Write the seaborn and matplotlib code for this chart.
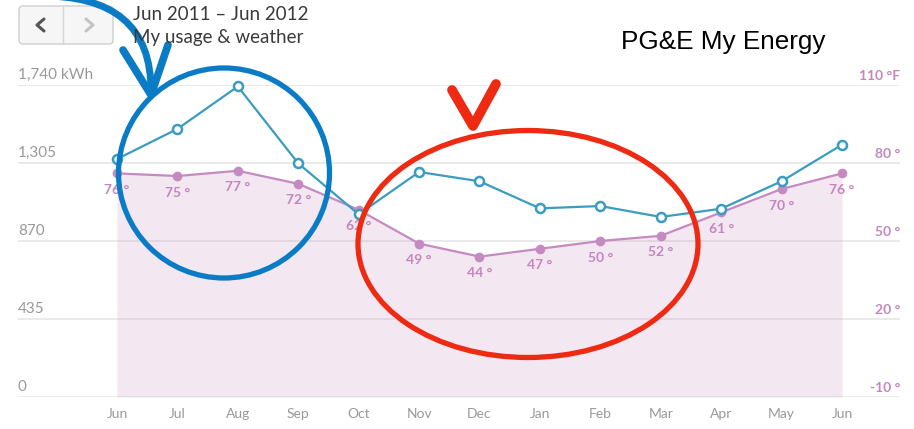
import matplotlib
matplotlib.use('Agg')
import matplotlib.pyplot as plt
import seaborn as sns
import pandas as pd
from matplotlib.patches import Ellipse, FancyBboxPatch, PathPatch
from matplotlib.path import Path

months = ['Jun', 'Jul', 'Aug', 'Sep', 'Oct', 'Nov', 'Dec',
          'Jan', 'Feb', 'Mar', 'Apr', 'May', 'Jun']
usage_kwh = [1327, 1495, 1732, 1303, 1019, 1255, 1203,
             1052, 1065, 1004, 1050, 1203, 1407]
temp_f = [76, 75, 77, 72, 62, 49, 44, 47, 50, 52, 61, 70, 76]
kwh_ticks = [0, 435, 870, 1305, 1740]
kwh_labels = ['0', '435', '870', '1,305', '1,740 kWh']
temp_ticks = [-10, 20, 50, 80, 110]
temp_labels = ['-10 °', '20 °', '50 °', '80 °', '110 °F']

df = pd.DataFrame({'idx': range(len(months)), 'month': months,
                   'usage': usage_kwh, 'temp': temp_f})

sns.set_style('white')
plt.rcParams['font.family'] = ['Lato', 'DejaVu Sans']

BLUE = '#3a9cc0'
PURPLE = '#c58bc1'
PURPLE_TXT = '#c486bd'
GRAY_TXT = '#999999'

W, H = 914, 429
fig = plt.figure(figsize=(W / 100, H / 100), dpi=100)

# plot area: x 18..900 px, y 85..397 px
ax = fig.add_axes([18 / W, (H - 397) / H, (900 - 18) / W, 312 / H])
ax2 = ax.twinx()

# temperature (right axis) with area fill
ax2.fill_between(df['idx'], df['temp'], -10, color=PURPLE, alpha=0.2, lw=0)
sns.lineplot(data=df, x='idx', y='temp', ax=ax2, color=PURPLE, lw=1.6,
             marker='o', markersize=7, markeredgewidth=0, clip_on=False)
for i, t in enumerate(temp_f):
    ax2.annotate(f'{t} °', xy=(i, t), xytext=(0, -12), textcoords='offset points',
                 ha='center', va='center', color=PURPLE_TXT, fontsize=10,
                 fontweight='bold')

# usage (left axis)
sns.lineplot(data=df, x='idx', y='usage', ax=ax, color=BLUE, lw=1.6,
             marker='o', markersize=6.5, markerfacecolor='white',
             markeredgecolor=BLUE, markeredgewidth=1.8, clip_on=False)

ax.set_zorder(ax2.get_zorder() + 1)
ax.patch.set_visible(False)

step = 60.42
ax.set_xlim(-(117 - 18) / step, 12 + (900 - 842) / step)
ax.set_ylim(0, 1740)
ax2.set_ylim(-10, 110)

ax2.set_yticks(temp_ticks)
ax2.grid(axis='y', color='#e6e6e6', lw=1.2)
ax2.set_axisbelow(True)
ax.set_yticks([])
ax2.set_yticklabels([])
ax2.tick_params(length=0)

ax.set_xticks(range(len(months)))
ax.set_xticklabels(months, color=GRAY_TXT, fontsize=10)
ax.tick_params(axis='x', length=0, pad=8)
ax.set_xlabel('')
ax.set_ylabel('')
ax2.set_ylabel('')
for a in (ax, ax2):
    for s in a.spines.values():
        s.set_visible(False)

for v, lab in zip(kwh_ticks, kwh_labels):
    ax.annotate(lab, xy=(0, v), xycoords=('axes fraction', 'data'),
                xytext=(0, 2), textcoords='offset points',
                ha='left', va='bottom', color=GRAY_TXT, fontsize=11)
for v, lab in zip(temp_ticks, temp_labels):
    ax2.annotate(lab, xy=(1, v), xycoords=('axes fraction', 'data'),
                 xytext=(0, 2), textcoords='offset points',
                 ha='right', va='bottom', color=PURPLE_TXT, fontsize=10,
                 fontweight='bold')

# overlay in figure pixels for header and hand-drawn marks
ov = fig.add_axes([0, 0, 1, 1], zorder=10)
ov.set_xlim(0, W)
ov.set_ylim(H, 0)
ov.axis('off')
ov.patch.set_visible(False)

ov.add_patch(FancyBboxPatch((19, 6), 94, 38, boxstyle='round,pad=0,rounding_size=4',
                            fc='#f6f6f6', ec='#cfcfcf', lw=1))
ov.plot([63, 63], [6, 44], color='#d5d5d5', lw=1)
ov.plot([44, 37, 44], [19, 25, 31], color='#555555', lw=2.2)
ov.plot([86, 93, 86], [19, 25, 31], color='#c4c4c4', lw=2.2)
ov.text(133, 15, 'Jun 2011 – Jun 2012', fontsize=13.5, color='#3a3a3a',
        ha='left', va='center')
ov.text(133, 37, 'My usage & weather', fontsize=13.5, color='#3a3a3a',
        ha='left', va='center')
ov.text(723, 42, 'PG&E My Energy', fontsize=18.8, color='black',
        ha='center', va='center', family='Liberation Sans')

ov.add_patch(Ellipse((224, 173), 211, 210, fill=False, ec='#0a7cc6', lw=3.8))
arc = Path([(38, -4), (152, -6), (151, 92)], [Path.MOVETO, Path.CURVE3, Path.CURVE3])
ov.add_patch(PathPatch(arc, fill=False, ec='#0a7cc6', lw=5, capstyle='round'))
ov.plot([123, 151, 168], [50, 95, 45], color='#0a7cc6', lw=5.5,
        solid_capstyle='round', solid_joinstyle='round')

ov.add_patch(Ellipse((528, 244), 340, 227, fill=False, ec='#ee2a12', lw=3.8))
ov.plot([452, 473, 496], [90, 126, 84], color='#ee2a12', lw=7,
        solid_capstyle='round', solid_joinstyle='round')

fig.savefig('out.png', dpi=100)
